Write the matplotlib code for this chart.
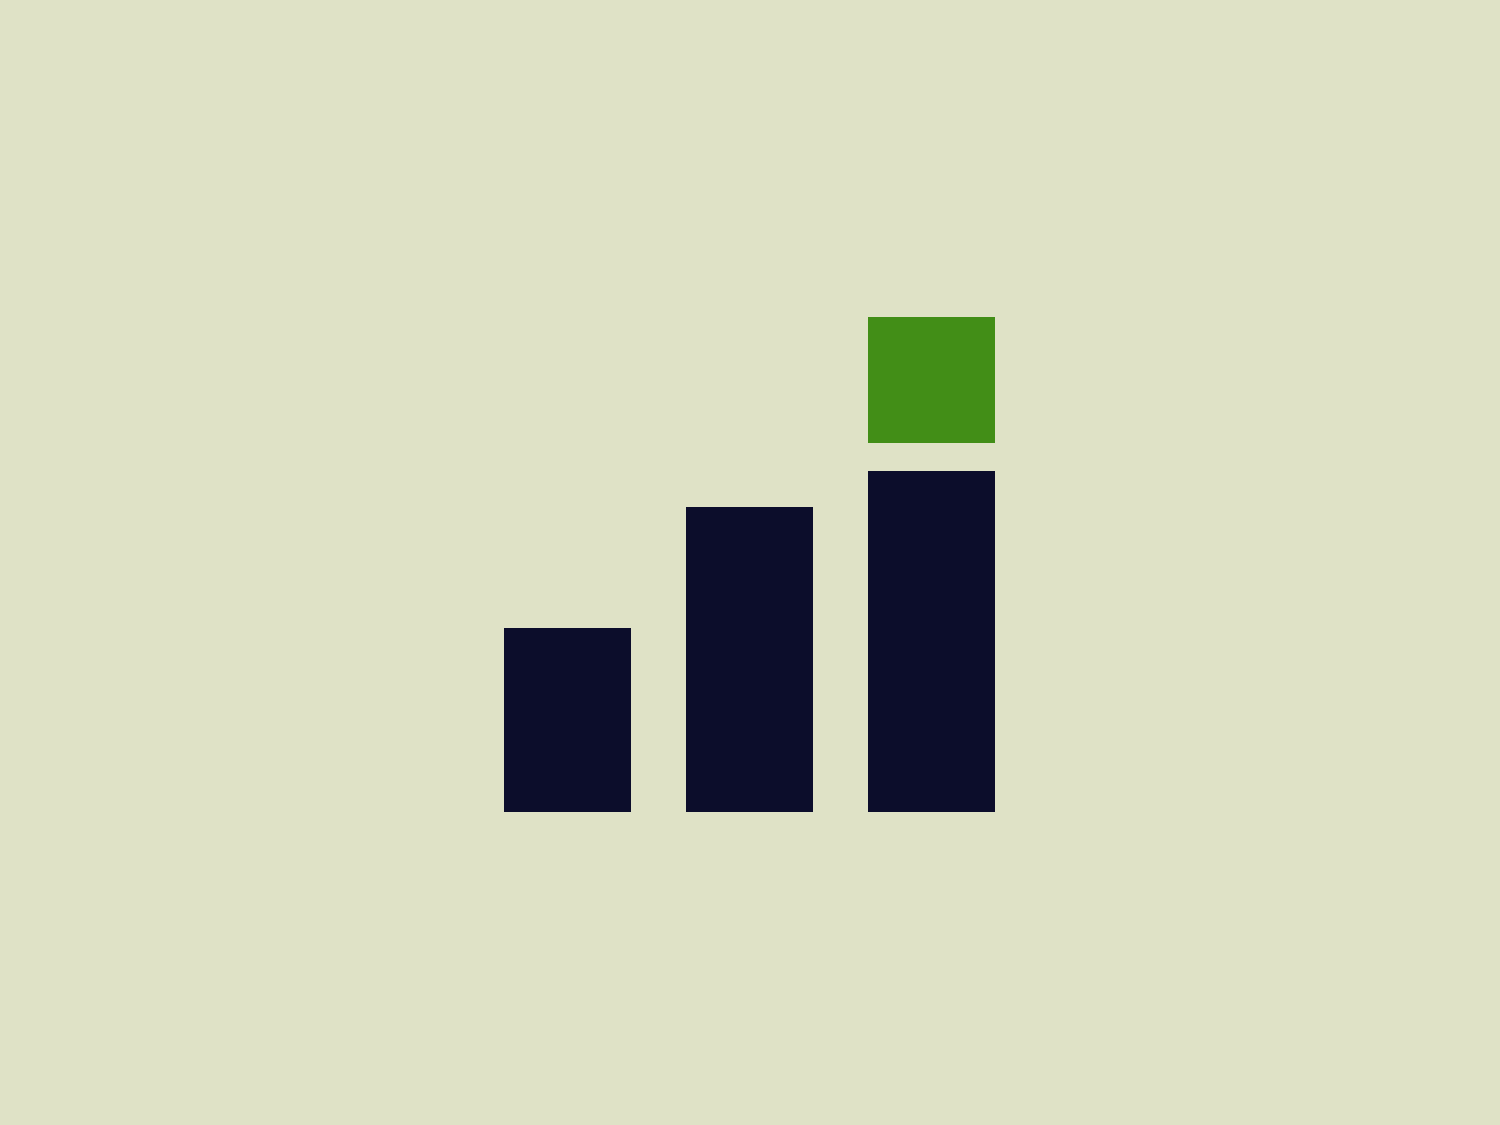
import matplotlib
matplotlib.use("Agg")
import matplotlib.pyplot as plt

# bar heights (arbitrary units), last bar gets a highlight block on top
categories = ["A", "B", "C"]
values = [184, 305, 341]
highlight = [0, 0, 126]
highlight_gap = 28

bg = "#DFE2C6"
navy = "#0C0D2B"
green = "#428E17"

fig = plt.figure(figsize=(15, 11.25), dpi=100, facecolor=bg)
ax = fig.add_axes([0, 0, 1, 1])
ax.set_facecolor(bg)

x = list(range(len(categories)))
ax.bar(x, values, width=0.698, color=navy, linewidth=0)
for i, h in enumerate(highlight):
    if h:
        ax.bar(i, h, bottom=values[i] + highlight_gap, width=0.698,
               color=green, linewidth=0)

ax.set_xlim(-567.5 / 182, (1500 - 567.5) / 182)
ax.set_ylim(-(1125 - 812), 812)
ax.axis("off")

fig.savefig("out.png", facecolor=bg)
